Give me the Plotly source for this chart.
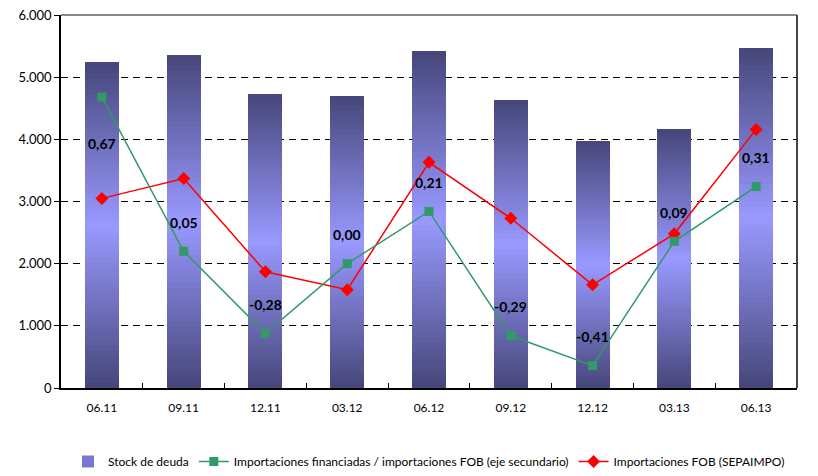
import plotly.graph_objects as go

categories = ["06.11", "09.11", "12.11", "03.12", "06.12", "09.12", "12.12", "03.13", "06.13"]
stock_deuda = [5240, 5360, 4730, 4690, 5420, 4630, 3970, 4160, 5470]
ratio_financiadas = [0.67, 0.05, -0.28, 0.00, 0.21, -0.29, -0.41, 0.09, 0.31]
importaciones_fob = [3050, 3370, 1870, 1580, 3630, 2730, 1660, 2480, 4160]
y_ticks = [0, 1000, 2000, 3000, 4000, 5000, 6000]

FONT = "Lato"
DARK = (70, 70, 122)
LIGHT = (153, 153, 255)
N_SEG = 60

fig = go.Figure()

# Gradient bars: stack of thin slices of each bar, darker at the ends
for i in range(N_SEG):
    t = abs((i + 0.5) / N_SEG - 0.5) * 2
    t = min(1.0, t)
    c = tuple(round(LIGHT[k] + (DARK[k] - LIGHT[k]) * t) for k in range(3))
    fig.add_trace(go.Bar(
        x=categories, y=[v / N_SEG for v in stock_deuda],
        marker=dict(color="rgb(%d,%d,%d)" % c, line=dict(width=0)),
        showlegend=False, hoverinfo="skip", legendgroup="stock",
    ))

# legend entry for the bars
fig.add_trace(go.Bar(
    x=categories, y=[None] * len(categories), name="Stock de deuda",
    marker=dict(color="rgb(120,120,210)", line=dict(width=0)),
    legendgroup="stock", showlegend=True,
))

fig.add_trace(go.Scatter(
    x=categories, y=ratio_financiadas, yaxis="y2", mode="lines+markers",
    name="Importaciones financiadas / importaciones FOB (eje secundario)",
    line=dict(color="#339966", width=1.5),
    marker=dict(symbol="square", size=9, color="#339966"),
))

fig.add_trace(go.Scatter(
    x=categories, y=importaciones_fob, mode="lines+markers",
    name="Importaciones FOB (SEPAIMPO)",
    line=dict(color="#ff0000", width=1.5),
    marker=dict(symbol="diamond", size=10, color="#ff0000"),
))

annotations = []
for i, v in enumerate(ratio_financiadas):
    annotations.append(dict(
        x=i, y=v, xref="x", yref="y2",
        text=("%.2f" % v).replace(".", ","),
        showarrow=False, yshift=(-46 if i == 0 else 29),
        font=dict(family=FONT, size=14, color="black", weight="bold"),
    ))

fig.update_layout(
    width=818, height=476,
    margin=dict(l=61, r=21, t=15, b=88, autoexpand=False),
    paper_bgcolor="white", plot_bgcolor="white",
    barmode="stack", bargap=0.585,
    separators=",.",
    font=dict(family=FONT, size=13, color="black"),
    xaxis=dict(
        type="category", showline=True, linecolor="black", linewidth=1.5,
        ticks="inside", tickson="boundaries", ticklen=5, tickcolor="black",
        showgrid=False, tickfont=dict(size=12), ticklabelstandoff=8,
        range=[-0.5, len(categories) - 0.5], automargin=False,
    ),
    yaxis=dict(
        range=[0, 6000], tickvals=y_ticks, tickformat=",.0f",
        showline=True, linecolor="black", linewidth=1.5,
        ticks="outside", ticklen=5, tickcolor="black",
        showgrid=True, gridcolor="black", gridwidth=1, griddash="7px,5px",
        zeroline=False, tickfont=dict(size=13), automargin=False,
        ticklabeloverflow="allow",
    ),
    yaxis2=dict(range=[-0.5, 1.0], overlaying="y", side="right", visible=False,
                showgrid=False, zeroline=False),
    legend=dict(orientation="h", x=0.5, xanchor="center", yref="container",
                y=0.0, yanchor="bottom",
                font=dict(size=12), traceorder="normal", itemwidth=30),
    annotations=annotations,
    shapes=[
        dict(type="line", xref="paper", yref="paper", x0=0, x1=1, y0=1, y1=1,
             line=dict(color="#888888", width=2), layer="above"),
        dict(type="line", xref="paper", yref="paper", x0=1, x1=1, y0=0, y1=1,
             line=dict(color="#444444", width=2), layer="above"),
    ],
)

fig.write_html("out.html", config={"displayModeBar": False},
               post_script="document.body.style.margin='0';document.body.style.overflow='hidden';")
